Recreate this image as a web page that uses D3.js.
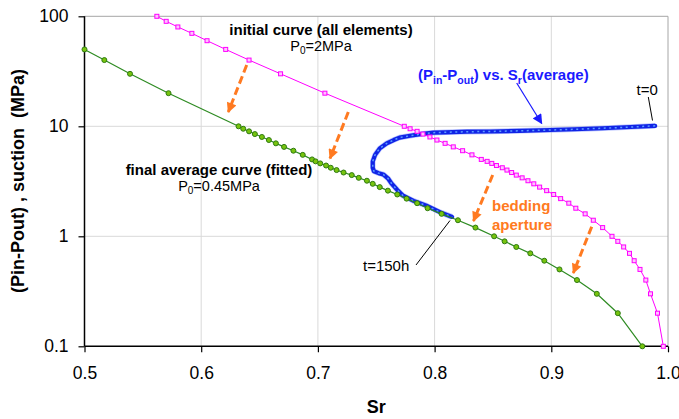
<!DOCTYPE html>
<html><head><meta charset="utf-8">
<script src="https://cdn.jsdelivr.net/npm/d3@7"></script>
<style>
html,body{margin:0;padding:0;background:#fff;}
svg{display:block;}
text{font-family:"Liberation Sans",Arial,sans-serif;}
</style></head>
<body>
<svg id="c" width="679" height="419"></svg>
<script>
// ---- data ----
const xTicks = [0.5, 0.6, 0.7, 0.8, 0.9, 1.0];
const yTicks = [0.1, 1, 10, 100];

// initial curve (all elements), P0 = 2 MPa
const sPink = [100,90,80,70,60,50,40,30,20,10,9.5,9,8.5,8,7.5,7,6.5,6,5.5,5,4.8,4.6,4.4,4.2,4,3.8,3.6,3.4,3.2,3,2.8,2.6,2.4,2.2,2,1.8,1.6,1.4,1.2,1,0.9,0.8,0.7,0.6,0.5,0.4,0.3,0.2,0.1];
const srPink = [0.562,0.570,0.580,0.592,0.605,0.621,0.641,0.668,0.706,0.774,0.779,0.785,0.790,0.796,0.802,0.809,0.816,0.824,0.832,0.840,0.845,0.849,0.853,0.858,0.862,0.866,0.870,0.875,0.880,0.885,0.890,0.896,0.902,0.908,0.915,0.921,0.929,0.936,0.944,0.952,0.957,0.962,0.967,0.971,0.976,0.981,0.985,0.991,0.996];

// final average curve (fitted), P0 = 0.45 MPa
const sGreen = [50,40,30,20,10,9.5,9,8.5,8,7.5,7,6.5,6,5.5,5,4.8,4.6,4.4,4.2,4,3.8,3.6,3.4,3.2,3,2.8,2.6,2.4,2.2,2,1.8,1.6,1.4,1.2,1,0.9,0.8,0.7,0.6,0.5,0.4,0.3,0.2,0.1];
const srGreen = [0.500,0.517,0.539,0.572,0.632,0.636,0.641,0.646,0.652,0.658,0.664,0.671,0.679,0.687,0.695,0.698,0.702,0.707,0.711,0.716,0.722,0.729,0.735,0.742,0.747,0.753,0.760,0.768,0.776,0.785,0.794,0.806,0.820,0.835,0.851,0.860,0.870,0.882,0.894,0.907,0.922,0.939,0.957,0.978];

// (Pin-Pout) vs Sr (average), from t=0 to t=150h
const srBlue = [0.989,0.968,0.944,0.920,0.899,0.873,0.848,0.828,0.809,0.799,0.788,0.779,0.770,0.765,0.759,0.753,0.749,0.747,0.747,0.748,0.752,0.756,0.760,0.763,0.768,0.773,0.782,0.793,0.805,0.815];
const sBlue = [10.1,9.85,9.6,9.4,9.25,9.1,8.97,8.93,8.82,8.75,8.5,8.2,7.9,7.5,7.0,6.3,5.5,4.8,4.2,3.9,3.75,3.65,3.37,3.03,2.64,2.34,2.1,1.9,1.65,1.5];

// ---- layout ----
const L = 84.5, R = 668, T = 16.3, B = 346.3;
const svg = d3.select("#c");
const x = d3.scaleLinear().domain([0.5, 1.0]).range([L, R]);
const y = d3.scaleLog().domain([0.1, 100]).range([B, T]);

const defs = svg.append("defs");
function arrowMarker(id, color, w, h) {
  defs.append("marker").attr("id", id).attr("viewBox", "0 0 10 10")
    .attr("refX", 9).attr("refY", 5).attr("markerUnits", "userSpaceOnUse")
    .attr("markerWidth", w).attr("markerHeight", h).attr("orient", "auto")
    .append("path").attr("d", "M0,0 L10,5 L0,10 z").attr("fill", color);
}
arrowMarker("ora", "#ff7a21", 11, 10);
arrowMarker("blu", "#1a1aff", 12, 10);

// grid
const grid = svg.append("g");
grid.selectAll("line.v").data(xTicks.filter(d => d > 0.5 && d < 1.0)).join("line")
  .attr("x1", d => x(d)).attr("x2", d => x(d)).attr("y1", T).attr("y2", B)
  .attr("stroke", "#d9d9d9").attr("stroke-width", 1);
grid.selectAll("line.h").data(yTicks.filter(d => d > 0.1 && d < 100)).join("line")
  .attr("x1", L).attr("x2", R).attr("y1", d => y(d)).attr("y2", d => y(d))
  .attr("stroke", "#d9d9d9").attr("stroke-width", 1);
// frame top/right
svg.append("path").attr("d", `M${L},${T}H${R}V${B}`).attr("fill", "none")
  .attr("stroke", "#a6a6a6").attr("stroke-width", 1);

// axes
const yAxis = svg.append("g").attr("transform", `translate(${L},0)`)
  .call(d3.axisLeft(y).tickValues(yTicks).tickFormat(d => String(d)).tickSize(6).tickPadding(10));
const xAxis = svg.append("g").attr("transform", `translate(0,${B})`)
  .call(d3.axisBottom(x).tickValues(xTicks).tickFormat(d3.format(".1f")).tickSize(6).tickPadding(14));
[yAxis, xAxis].forEach(a => {
  a.select(".domain").attr("stroke", "#000").attr("stroke-width", 1.5);
  a.selectAll(".tick line").attr("stroke", "#000").attr("stroke-width", 1.2);
  a.selectAll("text").attr("font-family", "Liberation Sans, Arial, sans-serif")
    .attr("font-size", 17.5).attr("fill", "#000");
});
yAxis.select(".domain").attr("d", `M0,${T}V${B}`);
xAxis.select(".domain").attr("d", `M${L},0H${R}`);

// axis titles
svg.append("text").attr("x", x(0.75)).attr("y", 413).attr("text-anchor", "middle")
  .attr("font-weight", "bold").attr("font-size", 18).text("Sr");
svg.append("text").attr("transform", `translate(24,181) rotate(-90)`).attr("text-anchor", "middle")
  .attr("font-weight", "bold").attr("font-size", 18).style("white-space", "pre")
  .text("(Pin-Pout) , suction  (MPa)");

// blue curve
const line = d3.line().x(d => x(d[0])).y(d => y(d[1]));
const blueData = srBlue.map((v, i) => [v, sBlue[i]]);
svg.append("path").attr("d", line(blueData)).attr("fill", "none")
  .attr("stroke", "#6a80ff").attr("stroke-width", 5.5).attr("stroke-linejoin", "round").attr("opacity", 0.45);
svg.append("path").attr("d", line(blueData)).attr("fill", "none")
  .attr("stroke", "#1024e6").attr("stroke-width", 4.2).attr("stroke-linejoin", "round").attr("stroke-linecap", "round");
svg.append("path").attr("d", line(blueData)).attr("fill", "none")
  .attr("stroke", "#5c9cff").attr("stroke-width", 1.5).attr("stroke-dasharray", "2 3.5");

// pink curve
const pinkData = srPink.map((v, i) => [v, sPink[i]]);
svg.append("path").attr("d", line(pinkData)).attr("fill", "none")
  .attr("stroke", "#ff00ff").attr("stroke-width", 1);
svg.append("g").selectAll("rect").data(pinkData).join("rect")
  .attr("x", d => x(d[0]) - 2).attr("y", d => y(d[1]) - 2).attr("width", 4).attr("height", 4)
  .attr("fill", "#ffc4ff").attr("stroke", "#ff00ff").attr("stroke-width", 1);

// green curve
const greenData = srGreen.map((v, i) => [v, sGreen[i]]);
svg.append("path").attr("d", line(greenData)).attr("fill", "none")
  .attr("stroke", "#2e8b22").attr("stroke-width", 1.2);
svg.append("g").selectAll("circle").data(greenData).join("circle")
  .attr("cx", d => x(d[0])).attr("cy", d => y(d[1])).attr("r", 2.5)
  .attr("fill", "#77c40e").attr("stroke", "#2f7a12").attr("stroke-width", 1);

// orange dashed arrows (bedding aperture shift)
const oArrows = [[246.7, 65, 228.3, 112], [348.3, 112, 330, 158.5], [492.7, 175, 473.5, 221], [591.7, 226.7, 573.3, 273]];
svg.append("g").selectAll("line").data(oArrows).join("line")
  .attr("x1", d => d[0]).attr("y1", d => d[1]).attr("x2", d => d[2]).attr("y2", d => d[3])
  .attr("stroke", "#ff7a21").attr("stroke-width", 3).attr("stroke-dasharray", "8 4")
  .attr("marker-end", "url(#ora)");

// blue annotation arrow
svg.append("line").attr("x1", 516.7).attr("y1", 83).attr("x2", 541.7).attr("y2", 123.5)
  .attr("stroke", "#1a1aff").attr("stroke-width", 1.2).attr("marker-end", "url(#blu)");
// leader lines
svg.append("line").attr("x1", 648.3).attr("y1", 97).attr("x2", 652.5).attr("y2", 120.5)
  .attr("stroke", "#000").attr("stroke-width", 1);
svg.append("line").attr("x1", 416).attr("y1", 265).attr("x2", 450).attr("y2", 220.5)
  .attr("stroke", "#000").attr("stroke-width", 1);

// texts
svg.append("text").attr("x", 321).attr("y", 35).attr("text-anchor", "middle")
  .attr("font-weight", "bold").attr("font-size", 15).text("initial curve (all elements)");
const p1 = svg.append("text").attr("x", 321).attr("y", 51).attr("text-anchor", "middle").attr("font-size", 14.5);
p1.append("tspan").text("P");
p1.append("tspan").attr("font-size", 10).attr("dy", 3).text("0");
p1.append("tspan").attr("dy", -3).text("=2MPa");

svg.append("text").attr("x", 219).attr("y", 175).attr("text-anchor", "middle")
  .attr("font-weight", "bold").attr("font-size", 15).text("final average curve (fitted)");
const p2 = svg.append("text").attr("x", 219).attr("y", 191).attr("text-anchor", "middle").attr("font-size", 14.5);
p2.append("tspan").text("P");
p2.append("tspan").attr("font-size", 10).attr("dy", 3).text("0");
p2.append("tspan").attr("dy", -3).text("=0.45MPa");

const bl = svg.append("text").attr("x", 418).attr("y", 80).attr("fill", "#1a1aff")
  .attr("font-family", "Lato, 'Open Sans', sans-serif").attr("font-weight", "bold").attr("font-size", 15);
bl.append("tspan").text("(P");
bl.append("tspan").attr("font-size", 10.5).attr("dy", 4).text("in");
bl.append("tspan").attr("dy", -4).text("-P");
bl.append("tspan").attr("font-size", 10.5).attr("dy", 4).text("out");
bl.append("tspan").attr("dy", -4).text(") vs. S");
bl.append("tspan").attr("font-size", 10.5).attr("dy", 4).text("r");
bl.append("tspan").attr("dy", -4).text("(average)");

svg.append("text").attr("x", 636.5).attr("y", 95).attr("font-size", 15).text("t=0");
svg.append("text").attr("x", 363).attr("y", 271).attr("font-size", 15).text("t=150h");

svg.append("text").attr("x", 492).attr("y", 211).attr("fill", "#ff7a21")
  .attr("font-family", "Lato, 'Open Sans', sans-serif").attr("font-weight", "bold").attr("font-size", 15).text("bedding");
svg.append("text").attr("x", 492).attr("y", 230).attr("fill", "#ff7a21")
  .attr("font-family", "Lato, 'Open Sans', sans-serif").attr("font-weight", "bold").attr("font-size", 15).text("aperture");
</script>
</body></html>
